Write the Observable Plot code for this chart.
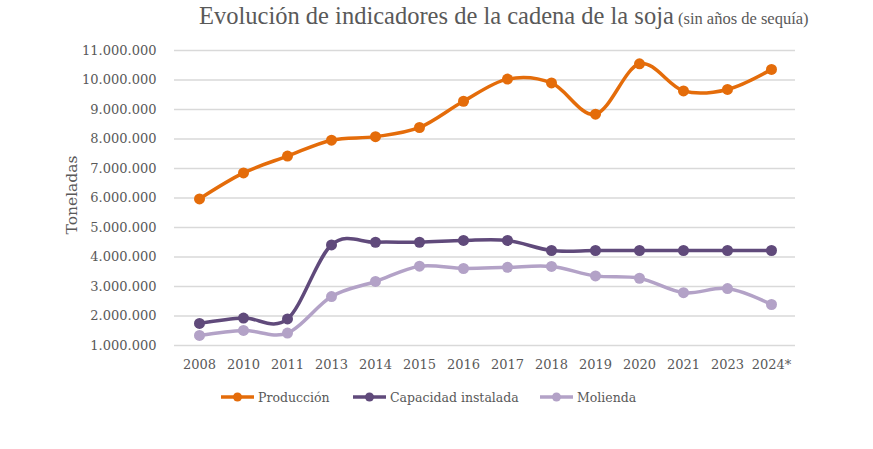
<!DOCTYPE html>
<html><head><meta charset="utf-8">
<script src="https://cdn.jsdelivr.net/npm/d3@7"></script>
<script src="https://cdn.jsdelivr.net/npm/@observablehq/plot@0.6"></script>
<style>
body{margin:0;background:#fff;}
#wrap{position:relative;width:873px;height:449px;}
#wrap > svg{position:absolute;left:0;top:0;}
</style>
</head><body>
<div id="wrap"></div>
<script>
const years = ["2008","2010","2011","2013","2014","2015","2016","2017","2018","2019","2020","2021","2023","2024*"];
const produccion = [5970000, 6850000, 7420000, 7960000, 8080000, 8390000, 9280000, 10030000, 9900000, 8840000, 10550000, 9630000, 9680000, 10360000];
const capacidad = [1750000, 1930000, 1900000, 4410000, 4500000, 4500000, 4560000, 4560000, 4220000, 4220000, 4220000, 4220000, 4220000, 4220000];
const molienda = [1340000, 1510000, 1420000, 2660000, 3170000, 3690000, 3610000, 3650000, 3680000, 3360000, 3280000, 2790000, 2930000, 2390000];
const yTicks = [1000000,2000000,3000000,4000000,5000000,6000000,7000000,8000000,9000000,10000000,11000000];
const seriesNames = ["Producción","Capacidad instalada","Molienda"];
const seriesColors = ["#E46C0A","#604A7B","#B3A2C7"];
const title = "Evolución de indicadores de la cadena de la soja";
const subtitle = "(sin años de sequía)";
const yLabel = "Toneladas";

const values = [produccion, capacidad, molienda];
const data = [];
seriesNames.forEach((s,i)=>years.forEach((y,j)=>data.push({serie:s, year:y, value:values[i][j]})));

const loc = d3.formatLocale({decimal:",", thousands:".", grouping:[3], currency:["",""]});
const fmt = loc.format(",d");

const chart = Plot.plot({
  width:873, height:449,
  marginLeft:174, marginRight:78, marginTop:50, marginBottom:104,
  style:{fontFamily:"'DejaVu Serif', serif", fontSize:"13px", color:"#595959", background:"transparent"},
  x:{type:"point", domain:years, padding:0.5, label:null},
  y:{domain:[1000000,11000000], label:null},
  color:{domain:seriesNames, range:seriesColors},
  marks:[
    Plot.ruleY(yTicks, {stroke:"#d9d9d9", strokeWidth:1.5}),
    Plot.axisX({tickSize:0, tickPadding:14, fontSize:13}),
    Plot.axisY({ticks:yTicks, tickFormat:fmt, tickSize:0, tickPadding:18, fontSize:13}),
    Plot.line(data, {x:"year", y:"value", z:"serie", stroke:"serie", strokeWidth:3.5, curve:"cardinal", tension:0}),
    Plot.dot(data, {x:"year", y:"value", fill:"serie", r:5.5})
  ]
});
document.getElementById("wrap").appendChild(chart);

const ns = "http://www.w3.org/2000/svg";
const ov = d3.select("#wrap").append("svg").attr("width",873).attr("height",449).attr("xmlns",ns);
const t = ov.append("text").attr("x",199).attr("y",24).attr("fill","#595959")
  .style("font-family","'Liberation Serif', serif");
t.append("tspan").style("font-size","24.5px").text(title);
t.append("tspan").style("font-size","16.5px").text(" " + subtitle);
ov.append("text").attr("transform","translate(77,195) rotate(-90)").attr("text-anchor","middle")
  .attr("fill","#595959").style("font-family","'DejaVu Serif', serif").style("font-size","15.5px").text(yLabel);

const legX = [221, 353, 540];
seriesNames.forEach((s,i)=>{
  const g = ov.append("g");
  g.append("line").attr("x1",legX[i]).attr("x2",legX[i]+33).attr("y1",397).attr("y2",397)
    .attr("stroke",seriesColors[i]).attr("stroke-width",3.5);
  g.append("circle").attr("cx",legX[i]+16.5).attr("cy",397).attr("r",4.5).attr("fill",seriesColors[i]);
  g.append("text").attr("x",legX[i]+37).attr("y",401.5).attr("fill","#595959")
    .style("font-family","'DejaVu Serif', serif").style("font-size","12.5px").text(s);
});
</script>
</body></html>
